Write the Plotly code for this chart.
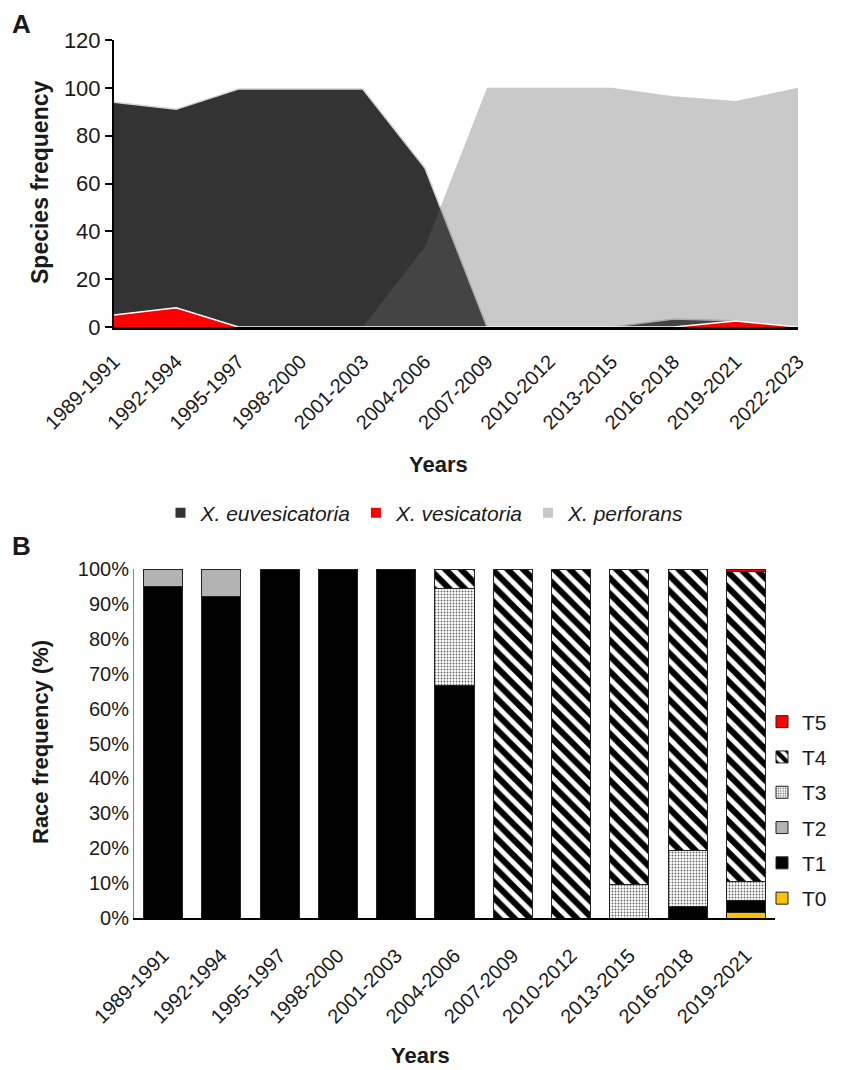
import plotly.graph_objects as go

# panel A - species frequency
periods_a = ["1989-1991", "1992-1994", "1995-1997", "1998-2000", "2001-2003", "2004-2006",
             "2007-2009", "2010-2012", "2013-2015", "2016-2018", "2019-2021", "2022-2023"]
euvesicatoria = [94, 91, 99.5, 99.5, 99.5, 66.5, 0, 0, 0, 3.3, 2.6, 0]
vesicatoria = [5, 8, 0, 0, 0, 0, 0, 0, 0, 0, 2.5, 0]
perforans = [0, 0, 0, 0, 0, 33.5, 100, 100, 100, 96.5, 94.5, 100]

# panel B - race frequency (%)
periods_b = periods_a[:11]
race_names = ["T0", "T1", "T2", "T3", "T4", "T5"]
race_t0 = [0, 0, 0, 0, 0, 0, 0, 0, 0, 0, 1.5]
race_t1 = [95, 92, 100, 100, 100, 66.7, 0, 0, 0, 3.2, 3.5]
race_t2 = [5, 8, 0, 0, 0, 0, 0, 0, 0, 0, 0]
race_t3 = [0, 0, 0, 0, 0, 27.7, 0, 0, 9.6, 16.1, 5.5]
race_t4 = [0, 0, 0, 0, 0, 5.6, 100, 100, 90.4, 80.7, 88.7]
race_t5 = [0, 0, 0, 0, 0, 0, 0, 0, 0, 0, 0.8]

FONT = "Liberation Sans, Arial, sans-serif"
OFF = 8  # page body margin
W, H = 851 - OFF, 1070 - OFF


def px_x(v):
    return (v - OFF) / W


def px_y(v):
    return 1 - (v - OFF) / H


fig = go.Figure()
xs = list(range(len(periods_a)))

fig.add_trace(go.Scatter(x=xs, y=euvesicatoria, mode='lines', fill='tozeroy',
                         fillcolor='#333333', line=dict(color='#d4d4d4', width=1.5),
                         showlegend=False, hoverinfo='skip'))
fig.add_trace(go.Scatter(x=xs, y=perforans, mode='lines', fill='tozeroy',
                         fillcolor='rgba(99,99,99,0.35)', line=dict(width=0),
                         showlegend=False, hoverinfo='skip'))
fig.add_trace(go.Scatter(x=xs, y=vesicatoria, mode='lines', fill='tozeroy',
                         fillcolor='#ff0000', line=dict(color='#ffffff', width=1.5),
                         showlegend=False, hoverinfo='skip'))

# legend entries for panel A
for nm, col in [("X. euvesicatoria", '#333333'), ("X. vesicatoria", '#ff0000'),
                ("X. perforans", '#c8c8c8')]:
    fig.add_trace(go.Scatter(x=[None], y=[None], mode='markers',
                             marker=dict(symbol='square', size=10, color=col),
                             name='<i>' + nm + '</i>', legend='legend'))

# panel B stacked bars
race_vals = [race_t0, race_t1, race_t2, race_t3, race_t4, race_t5]
race_style = {
    "T0": dict(color='#ffc000'),
    "T1": dict(color='#000000'),
    "T2": dict(color='#b3b3b3'),
    "T3": dict(color='#ffffff', pattern=dict(shape='.', fgcolor='#666666', bgcolor='#ffffff',
                                               size=3, solidity=0.3, fgopacity=1)),
    "T4": dict(color='#ffffff', pattern=dict(shape='\\', fgcolor='#000000', bgcolor='#ffffff',
                                               size=11, solidity=0.55, fgopacity=1)),
    "T5": dict(color='#ff0000'),
}
for i, (nm, vals) in enumerate(zip(race_names, race_vals)):
    mk = dict(race_style[nm])
    mk['line'] = dict(color='#222222', width=1)
    fig.add_trace(go.Bar(x=periods_b, y=vals, name=nm, marker=mk,
                         xaxis='x2', yaxis='y2', legend='legend2', legendgroup=nm,
                         legendrank=len(race_names) - i))

fig.update_layout(
    width=W, height=H,
    margin=dict(l=0, r=0, t=0, b=0, autoexpand=False),
    plot_bgcolor='white', paper_bgcolor='white',
    font=dict(family=FONT, color='#1a1a1a'),
    barmode='stack', bargap=0.33,
    xaxis=dict(domain=[px_x(114), px_x(798)], range=[0, 11], tickmode='array',
               tickvals=xs, ticktext=periods_a, tickangle=-45, showgrid=False,
               zeroline=False, showline=True, linecolor='#000000', linewidth=3,
               ticks='', ticklabelstandoff=12, tickfont=dict(size=20)),
    yaxis=dict(domain=[px_y(327), px_y(40)], range=[0, 120], dtick=20, showgrid=False,
               zeroline=False, showline=True, linecolor='#000000', linewidth=2,
               ticks='outside', ticklen=7, tickwidth=2, tickcolor='#000000',
               tickfont=dict(size=22), anchor='x'),
    xaxis2=dict(domain=[px_x(134), px_x(775)], range=[-0.5, 10.5], tickangle=-45,
                showgrid=False, zeroline=False, showline=True, linecolor='#000000',
                linewidth=2, ticks='', ticklabelstandoff=16, tickfont=dict(size=20),
                anchor='y2'),
    yaxis2=dict(domain=[px_y(918), px_y(569)], range=[0, 100], tickmode='array',
                tickvals=list(range(0, 101, 10)),
                ticktext=[str(v) + '%' for v in range(0, 101, 10)],
                showgrid=False, zeroline=False, showline=True, linecolor='#888888',
                linewidth=1, ticks='', tickfont=dict(size=20), anchor='x2'),
    legend=dict(orientation='h', x=px_x(425), xanchor='center', y=px_y(513),
                yanchor='middle', font=dict(size=21), bgcolor='rgba(0,0,0,0)'),
    legend2=dict(x=px_x(762), xanchor='left', y=px_y(810), yanchor='middle',
                 traceorder='grouped', tracegroupgap=5, itemwidth=30,
                 font=dict(size=21), bgcolor='rgba(0,0,0,0)'),
    annotations=[
        dict(text='<b>A</b>', x=px_x(21), y=px_y(24), xref='paper', yref='paper',
             xanchor='center', yanchor='middle', showarrow=False, font=dict(size=26)),
        dict(text='<b>B</b>', x=px_x(21), y=px_y(546), xref='paper', yref='paper',
             xanchor='center', yanchor='middle', showarrow=False, font=dict(size=26)),
        dict(text='<b>Species frequency</b>', x=px_x(40), y=px_y(183), xref='paper',
             yref='paper', textangle=-90, xanchor='center', yanchor='middle',
             showarrow=False, font=dict(size=23)),
        dict(text='<b>Race frequency (%)</b>', x=px_x(40), y=px_y(742), xref='paper',
             yref='paper', textangle=-90, xanchor='center', yanchor='middle',
             showarrow=False, font=dict(size=22)),
        dict(text='<b>Years</b>', x=px_x(438), y=px_y(465), xref='paper', yref='paper',
             xanchor='center', yanchor='middle', showarrow=False, font=dict(size=22)),
        dict(text='<b>Years</b>', x=px_x(420), y=px_y(1055), xref='paper', yref='paper',
             xanchor='center', yanchor='middle', showarrow=False, font=dict(size=22)),
    ],
)

fig.write_html("out.html")
